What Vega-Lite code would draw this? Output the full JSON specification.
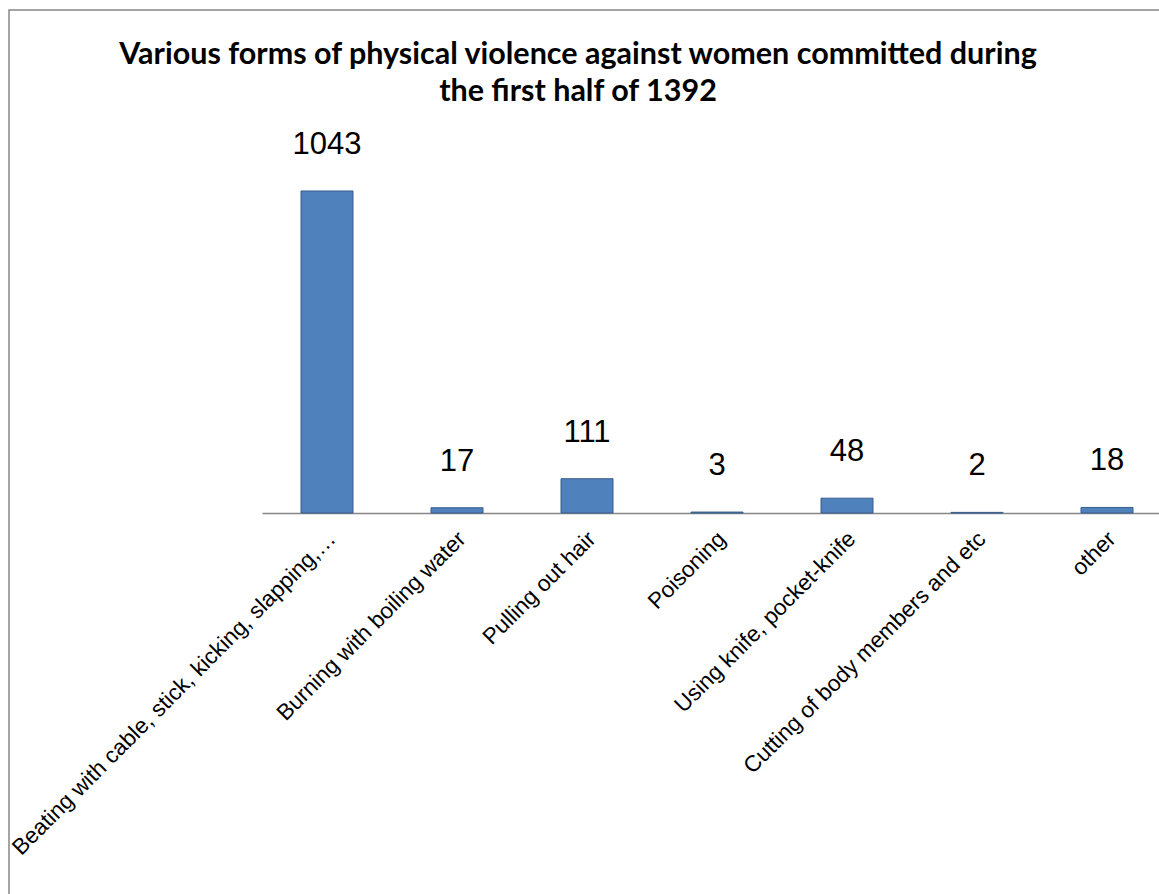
{
  "$schema": "https://vega.github.io/schema/vega-lite/v6.json",
  "autosize": "none",
  "padding": {"left": 9, "top": 10, "right": 0, "bottom": 0},
  "width": 1152,
  "height": 890,
  "background": "white",
  "title": {
    "text": ["Various forms of physical violence against women committed during", "the first half of 1392"],
    "font": "Lato",
    "fontWeight": "bold",
    "fontSize": 30.5,
    "color": "#000000",
    "anchor": "middle",
    "frame": "group",
    "offset": -97,
    "lineHeight": 37,
    "dx": -7
  },
  "data": {
    "values": [
      {"category": "Beating with cable, stick, kicking, slapping,…", "count": 1043},
      {"category": "Burning with boiling water", "count": 17},
      {"category": "Pulling out hair", "count": 111},
      {"category": "Poisoning", "count": 3},
      {"category": "Using knife, pocket-knife", "count": 48},
      {"category": "Cutting of body members and etc", "count": 2},
      {"category": "other", "count": 18}
    ]
  },
  "encoding": {
    "x": {
      "field": "category",
      "type": "nominal",
      "sort": null,
      "scale": {"range": [253, 1163], "paddingInner": 0.6, "paddingOuter": 0.3},
      "axis": {
        "title": null,
        "orient": "bottom",
        "offset": -387,
        "ticks": false,
        "tickSize": 0,
        "domainColor": "#868686",
        "domainWidth": 1.5,
        "labelAngle": -45,
        "labelAlign": "right",
        "labelBaseline": "middle",
        "labelPadding": 22,
        "labelOffset": 5,
        "labelFont": "Liberation Sans",
        "labelFontSize": 22.5,
        "labelColor": "#000000",
        "labelLimit": 1000,
        "labelOverlap": false
      }
    },
    "y": {
      "field": "count",
      "type": "quantitative",
      "scale": {"domain": [0, 1200], "range": [503, 132.5]},
      "axis": null
    }
  },
  "layer": [
    {
      "mark": {"type": "bar", "color": "#4F81BD", "stroke": "#385D8A", "strokeWidth": 1}
    },
    {
      "mark": {"type": "text", "font": "Liberation Sans", "fontSize": 31, "baseline": "alphabetic", "dy": -37, "color": "#000000"},
      "encoding": {"text": {"field": "count", "type": "quantitative"}}
    }
  ],
  "config": {
    "view": {"stroke": "#868686", "strokeWidth": 1.5}
  }
}
